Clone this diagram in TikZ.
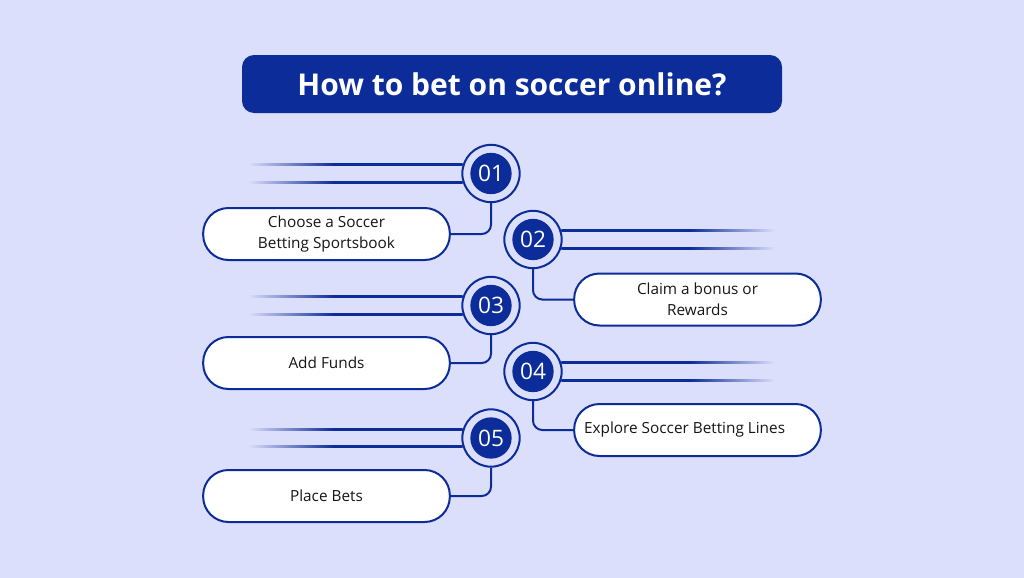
\documentclass[tikz,border=0pt]{standalone}
\usepackage{fontspec}
\setmainfont{Open Sans}
\usetikzlibrary{calc}
\definecolor{bgc}{HTML}{DCDFFB}
\definecolor{navy}{HTML}{0B2C99}
\definecolor{ink}{HTML}{161616}
% fading line shadings (path spans 25bp..75bp)
\pgfdeclarehorizontalshading{fadeleft}{100bp}{color(0bp)=(bgc); color(25bp)=(bgc); color(45bp)=(navy); color(100bp)=(navy)}
\pgfdeclarehorizontalshading{faderight}{100bp}{color(0bp)=(navy); color(55bp)=(navy); color(75bp)=(bgc); color(100bp)=(bgc)}
\tikzset{
  titlebox/.style={fill=navy, rounded corners=9pt, minimum width=405pt, minimum height=43.5pt,
    text=white, font=\bfseries\fontsize{22.5}{23}\selectfont},
  ring/.style={circle, draw=navy, line width=1.5pt, fill=bgc, minimum size=43pt, inner sep=0pt},
  dot/.style={circle, fill=navy, minimum size=31pt, inner sep=0pt, text=white,
    font=\fontsize{17}{17}\selectfont},
  stepbox/.style={draw=navy, line width=1.5pt, fill=white, rounded corners=19pt,
    minimum width=185pt, minimum height=39pt, align=center, text=ink,
    font=\fontsize{11.5}{15.75}\selectfont},
  steptext/.style={text=ink, font=\fontsize{11.5}{15.75}\selectfont, inner sep=0pt},
  link/.style={draw=navy, line width=1.5pt, rounded corners=7pt},
}
\begin{document}
\begin{tikzpicture}[x=0.75pt, y=-0.75pt]
  \fill[bgc] (0,0) rectangle (1024,578);
  \useasboundingbox (0,0) rectangle (1024,578);
  \node[titlebox] (title) at (512,84) {How to bet on soccer online?};
  % free ends of the fading lines
  \coordinate (lend) at (248,0);
  \coordinate (rend) at (775,0);
  % rings
  \node[ring] (n1) at (491,173.5) {};
  \node[ring] (n2) at (533,239.5) {};
  \node[ring] (n3) at (491,305.5) {};
  \node[ring] (n4) at (533,371.5) {};
  \node[ring] (n5) at (491,438) {};
  % boxes
  \node[stepbox] (b1) at (326.5,234) {Choose a Soccer\\Betting Sportsbook};
  \node[stepbox] (b2) at (697.5,299.5) {Claim a bonus or\\Rewards};
  \node[stepbox] (b3) at (326.5,363) {Add Funds};
  \node[stepbox] (b4) at (697.5,430) {};
  \node[steptext, anchor=west] (t4) at ([xshift=8pt]b4.west) {Explore Soccer Betting Lines};
  \node[stepbox] (b5) at (326.5,496) {Place Bets};
  % fading lines
  \foreach \n in {1,3,5}
    \foreach \a in {163,197}
      \shade[shading=fadeleft] ($(lend |- n\n.\a)+(0,-1)$) rectangle ($(n\n.\a)+(0,1)$);
  \foreach \n in {2,4}
    \foreach \a in {17,-17}
      \shade[shading=faderight] ($(n\n.\a)+(0,-1)$) rectangle ($(rend |- n\n.\a)+(0,1)$);
  % links
  \draw[link] (n1.south) |- (b1.east);
  \draw[link] (n2.south) |- (b2.west);
  \draw[link] (n3.south) |- (b3.east);
  \draw[link] (n4.south) |- (b4.west);
  \draw[link] (n5.south) |- (b5.east);
  % numbers
  \foreach \n in {1,...,5}
    \node[dot] (d\n) at (n\n) {0\n};
\end{tikzpicture}
\end{document}
